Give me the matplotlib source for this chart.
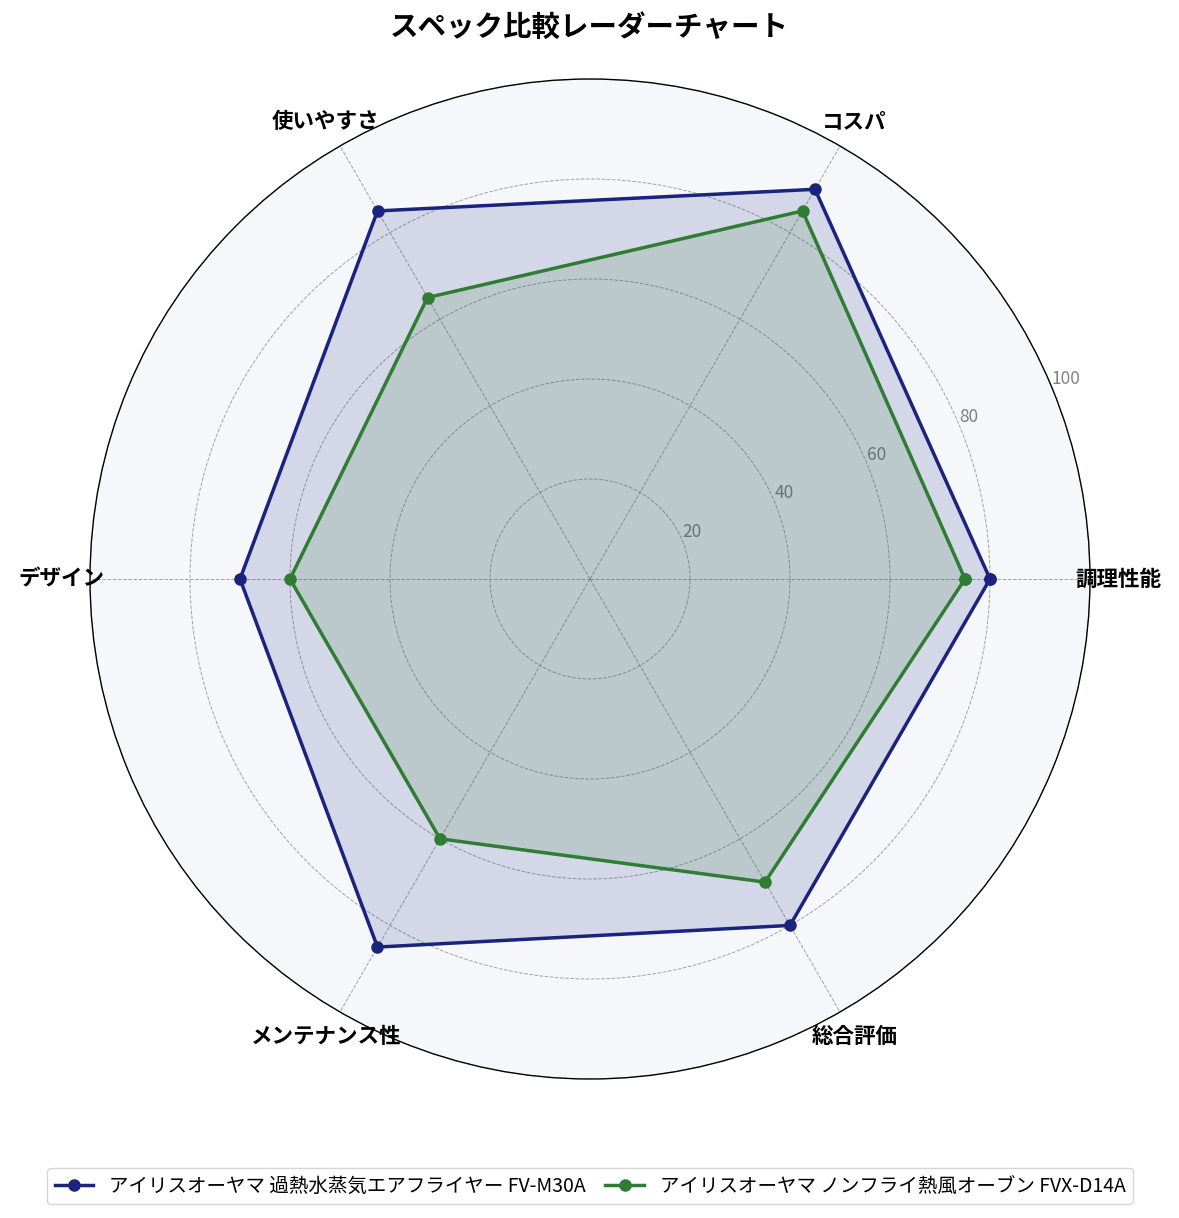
import numpy as np
import matplotlib
matplotlib.use("Agg")
import matplotlib.pyplot as plt

plt.rcParams['font.family'] = ['Noto Sans CJK JP', 'DejaVu Sans']

categories = ['調理性能', 'コスパ', '使いやすさ', 'デザイン', 'メンテナンス性', '総合評価']
series_names = ['アイリスオーヤマ 過熱水蒸気エアフライヤー FV-M30A',
                'アイリスオーヤマ ノンフライ熱風オーブン FVX-D14A']
values_a = [80, 90, 85, 70, 85, 80]
values_b = [75, 85, 65, 60, 60, 70]
colors = ['#1a237e', '#2e7d32']
r_ticks = [20, 40, 60, 80, 100]

fig = plt.figure(figsize=(11.79, 12.18), dpi=100)
ax = fig.add_axes([90/1179, 139/1218, 1000/1179, 1000/1218], projection='polar')
ax.set_facecolor('#f5f7fb')

n = len(categories)
angles = np.linspace(0, 2*np.pi, n, endpoint=False)
ang_closed = np.concatenate([angles, angles[:1]])

for vals, col, name in zip([values_a, values_b], colors, series_names):
    v = list(vals) + [vals[0]]
    ax.plot(ang_closed, v, color=col, linewidth=2.5, marker='o', markersize=8, label=name, zorder=3)
    ax.fill(ang_closed, v, color=col, alpha=0.15, zorder=2)

ax.set_ylim(0, 100)
ax.set_yticks(r_ticks)
ax.set_yticklabels([str(t) for t in r_ticks], color='#808080', fontsize=12.5)
ax.set_rlabel_position(22.5)
ax.set_xticks(angles)
ax.set_xticklabels(categories, fontsize=15.5, fontweight='bold')
ax.tick_params(axis='x', pad=10)
ax.grid(True, color='#999999', linestyle='--', linewidth=0.7, alpha=0.9)
ax.spines['polar'].set_color('black')
ax.spines['polar'].set_linewidth(1.0)

fig.suptitle('スペック比較レーダーチャート', fontsize=20.5, fontweight='bold', y=1-28/1218, va='center')

fig.legend(loc='center', bbox_to_anchor=(590/1179, 1-1186/1218), ncol=2, fontsize=14,
           frameon=True, handlelength=2, columnspacing=1.0)

fig.savefig('out.png', dpi=100)
